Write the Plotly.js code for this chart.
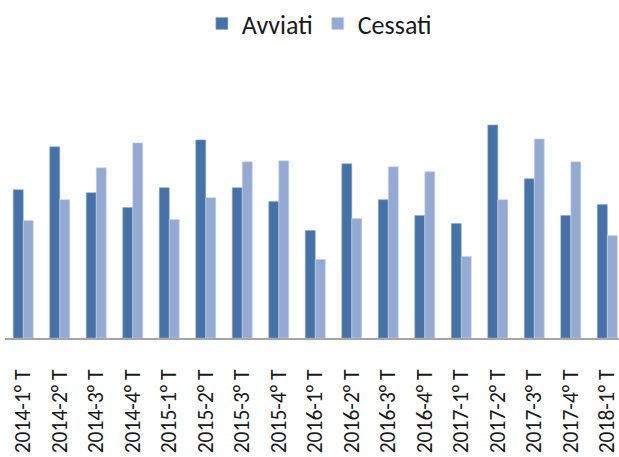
<!DOCTYPE html>
<html>
<head>
<meta charset="utf-8">
<script src="https://cdn.plot.ly/plotly-3.0.1.min.js"></script>
<style>html,body{margin:0;padding:0;background:#fff;}#chart{width:619px;height:457px;}</style>
</head>
<body>
<div id="chart"></div>
<script>
var categories = ["2014-1° T","2014-2° T","2014-3° T","2014-4° T","2015-1° T","2015-2° T","2015-3° T","2015-4° T","2016-1° T","2016-2° T","2016-3° T","2016-4° T","2017-1° T","2017-2° T","2017-3° T","2017-4° T","2018-1° T"];
var avviati = [149, 192, 146, 131, 151, 199, 151, 137, 108, 175, 139, 123, 115, 214, 160, 123, 134];
var cessati = [118, 139, 171, 196, 119, 141, 177, 178, 79, 120, 172, 167, 82, 139, 200, 177, 103];

var font = "Carlito, Calibri, 'Liberation Sans Narrow', 'DejaVu Sans Condensed', 'Liberation Sans', sans-serif";

var traces = [
  {type:'bar', name:'Avviati', x:categories, y:avviati,
   marker:{color:'#4672A7', line:{color:'#8FA9CF', width:0.6}}},
  {type:'bar', name:'Cessati', x:categories, y:cessati,
   marker:{color:'#95AAD2', line:{color:'#C9D5EA', width:0.6}}}
];

var layout = {
  width:619, height:457,
  margin:{l:5, r:0, t:118, b:119},
  paper_bgcolor:'#fff', plot_bgcolor:'#fff',
  barmode:'group', bargap:0.452, bargroupgap:0,
  showlegend:true,
  legend:{orientation:'h', x:0.512, xanchor:'center', xref:'paper', y:1.545, yanchor:'top',
          font:{family:font, size:26, color:'#1a1a1a'}, itemwidth:30, tracegroupgap:0},
  xaxis:{type:'category', range:[-0.5, 16.32], showline:true, linecolor:'#A6A6A6', linewidth:2,
         ticks:'outside', ticklen:21, tickcolor:'rgba(0,0,0,0)', tickangle:-90, automargin:false,
         tickfont:{family:font, size:21.5, color:'#1a1a1a'}, showgrid:false, zeroline:false, fixedrange:true},
  yaxis:{range:[0,220], visible:false, showgrid:false, zeroline:false, fixedrange:true},
  font:{family:font}
};

Plotly.newPlot('chart', traces, layout, {displayModeBar:false, staticPlot:true});
</script>
</body>
</html>
